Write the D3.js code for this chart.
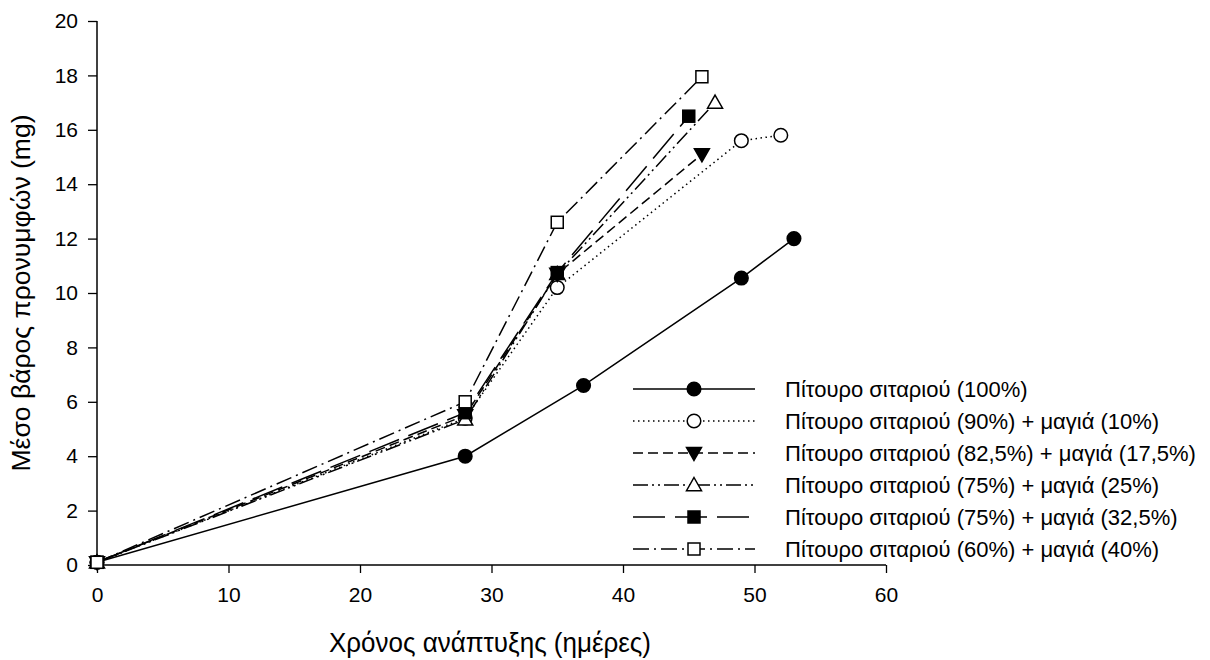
<!DOCTYPE html>
<html><head><meta charset="utf-8">
<script src="https://cdn.jsdelivr.net/npm/d3@7"></script>
<style>
body{margin:0;background:#fff;}
svg{display:block;}
</style></head>
<body>
<script>
// ---- data ----
const seriesNames = [
  "Πίτουρο σιταριού (100%)",
  "Πίτουρο σιταριού (90%) + μαγιά (10%)",
  "Πίτουρο σιταριού (82,5%) + μαγιά (17,5%)",
  "Πίτουρο σιταριού (75%) + μαγιά (25%)",
  "Πίτουρο σιταριού (75%) + μαγιά (32,5%)",
  "Πίτουρο σιταριού (60%) + μαγιά (40%)"
];
const days1 = [0, 28, 37, 49, 53];
const weight1 = [0.1, 4.0, 6.6, 10.55, 12.0];
const days2 = [0, 28, 35, 49, 52];
const weight2 = [0.1, 5.4, 10.2, 15.6, 15.8];
const days3 = [0, 28, 35, 46];
const weight3 = [0.1, 5.5, 10.7, 15.1];
const days4 = [0, 28, 35, 47];
const weight4 = [0.1, 5.35, 10.7, 17.0];
const days5 = [0, 28, 35, 45];
const weight5 = [0.1, 5.6, 10.75, 16.5];
const days6 = [0, 28, 35, 46];
const weight6 = [0.1, 6.0, 12.6, 17.95];
const xTicks = [0, 10, 20, 30, 40, 50, 60];
const yTicks = [0, 2, 4, 6, 8, 10, 12, 14, 16, 18, 20];
const xTitle = "Χρόνος ανάπτυξης (ημέρες)";
const yTitle = "Μέσο βάρος προνυμφών (mg)";

// ---- styles ----
const styles = [
  {dash: null, marker: "circle", fill: "#000"},
  {dash: "1.5,3.5", marker: "circle", fill: "#fff"},
  {dash: "10,5", marker: "triangleDown", fill: "#000"},
  {dash: "15,4,2,4,2,4", marker: "triangleUp", fill: "#fff"},
  {dash: "32,10", marker: "square", fill: "#000"},
  {dash: "16,5,2,5", marker: "square", fill: "#fff"}
];
const allDays = [days1, days2, days3, days4, days5, days6];
const allWeights = [weight1, weight2, weight3, weight4, weight5, weight6];
const series = allDays.map((d, i) => ({
  name: seriesNames[i], style: styles[i],
  points: d.map((x, j) => ({x: x, y: allWeights[i][j]}))
}));

const W = 1210, H = 660;
const svg = d3.select("body").append("svg").attr("width", W).attr("height", H);
const x = d3.scaleLinear().domain([0, 60]).range([97, 886]);
const y = d3.scaleLinear().domain([0, 20]).range([565, 21]);

const font = "'Liberation Sans', Arial, sans-serif";

// axes
const gx = svg.append("g").attr("transform", `translate(0,${y(0)})`)
  .call(d3.axisBottom(x).tickValues(xTicks).tickSize(8).tickPadding(14).tickFormat(d3.format("d")));
gx.select(".domain").attr("stroke", "#000").attr("stroke-width", 1.5).attr("d", `M${x(0)},0H${x(60)}`);
gx.selectAll(".tick line").attr("stroke", "#000").attr("stroke-width", 1.3);
gx.selectAll(".tick text").attr("font-family", font).attr("font-size", 21).attr("fill", "#000");

const gy = svg.append("g").attr("transform", `translate(${x(0)},0)`)
  .call(d3.axisLeft(y).tickValues(yTicks).tickSize(9).tickPadding(10).tickFormat(d3.format("d")));
gy.select(".domain").attr("stroke", "#000").attr("stroke-width", 1.5).attr("d", `M0,${y(0)}V${y(20)}`);
gy.selectAll(".tick line").attr("stroke", "#000").attr("stroke-width", 1.3);
gy.selectAll(".tick text").attr("font-family", font).attr("font-size", 21).attr("fill", "#000");

svg.append("text").attr("x", 490).attr("y", 652).attr("text-anchor", "middle")
  .attr("font-family", font).attr("font-size", 27)
  .attr("textLength", 322).attr("lengthAdjust", "spacingAndGlyphs").text(xTitle);
svg.append("text").attr("transform", `translate(30,${y(10)}) rotate(-90)`).attr("text-anchor", "middle")
  .attr("font-family", font).attr("font-size", 26.5).text(yTitle);

// markers
function drawMarker(g, type, cx, cy, fill) {
  if (type === "circle") {
    g.append("circle").attr("cx", cx).attr("cy", cy).attr("r", 6.8)
      .attr("fill", fill).attr("stroke", "#000").attr("stroke-width", 1.5);
  } else if (type === "square") {
    const s = 12;
    g.append("rect").attr("x", cx - s/2).attr("y", cy - s/2).attr("width", s).attr("height", s)
      .attr("fill", fill).attr("stroke", "#000").attr("stroke-width", 1.5);
  } else if (type === "triangleUp") {
    const s = 7.5;
    g.append("path").attr("d", `M${cx},${cy - s}L${cx + s},${cy + s*0.75}L${cx - s},${cy + s*0.75}Z`)
      .attr("fill", fill).attr("stroke", "#000").attr("stroke-width", 1.5);
  } else if (type === "triangleDown") {
    const s = 7.5;
    g.append("path").attr("d", `M${cx},${cy + s}L${cx + s},${cy - s*0.75}L${cx - s},${cy - s*0.75}Z`)
      .attr("fill", fill).attr("stroke", "#000").attr("stroke-width", 1.5);
  }
}

const line = d3.line().x(d => x(d.x)).y(d => y(d.y));
const plot = svg.append("g");
series.forEach(s => {
  plot.append("path").datum(s.points).attr("d", line).attr("fill", "none")
    .attr("stroke", "#000").attr("stroke-width", 1.5)
    .attr("stroke-dasharray", s.style.dash);
});
series.forEach(s => {
  const g = plot.append("g");
  s.points.forEach(p => drawMarker(g, s.style.marker, x(p.x), y(p.y), s.style.fill));
});

// legend
const leg = svg.append("g");
const legY0 = 389, legDy = 32;
series.forEach((s, i) => {
  const ly = legY0 + i * legDy;
  leg.append("line").attr("x1", 633).attr("x2", 755).attr("y1", ly).attr("y2", ly)
    .attr("stroke", "#000").attr("stroke-width", 1.5).attr("stroke-dasharray", s.style.dash);
  drawMarker(leg, s.style.marker, 694, ly, s.style.fill);
  leg.append("text").attr("x", 785).attr("y", ly).attr("dy", "0.35em")
    .attr("font-family", font).attr("font-size", 22).text(s.name);
});
</script>
</body></html>
